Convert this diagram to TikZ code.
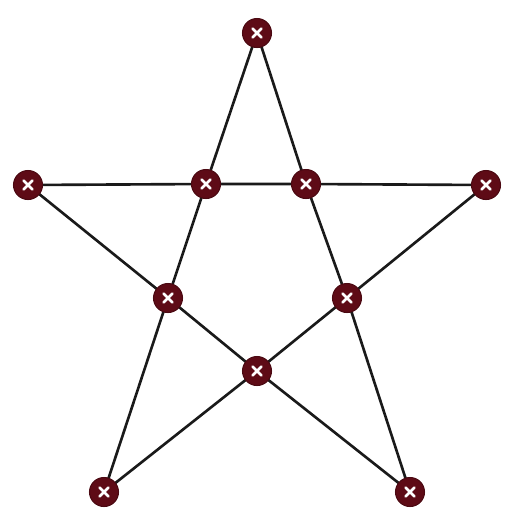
\documentclass[tikz,border=0pt]{standalone}
\definecolor{nodered}{HTML}{5E0B16}
\definecolor{edgecol}{HTML}{1A1A1A}
\tikzset{
  pnode/.style={circle, fill=nodered, draw=nodered!80!black, line width=0.6pt, minimum size=0.58cm, inner sep=0pt,
    path picture={
      \draw[white, line width=1.5pt, line cap=round]
        ([shift={(-0.09cm,-0.09cm)}]path picture bounding box.center) -- ([shift={(0.09cm,0.09cm)}]path picture bounding box.center)
        ([shift={(-0.09cm,0.09cm)}]path picture bounding box.center) -- ([shift={(0.09cm,-0.09cm)}]path picture bounding box.center);
    }},
  edge/.style={draw=edgecol, line width=1.5pt}
}
\begin{document}
\begin{tikzpicture}[x=0.02cm,y=-0.02cm]
\useasboundingbox[fill=white] (0,0) rectangle (505,515);
\coordinate (T0) at (257,33);
\coordinate (L0) at (28,185);
\coordinate (R0) at (486,185);
\coordinate (A0) at (206,184);
\coordinate (B0) at (306,184);
\coordinate (C0) at (168,298);
\coordinate (D0) at (347,298);
\coordinate (E0) at (257,371);
\coordinate (F0) at (104,492);
\coordinate (G0) at (410,492);
\draw[edge] (T0) -- (A0) -- (C0) -- (F0);
\draw[edge] (T0) -- (B0) -- (D0) -- (G0);
\draw[edge] (L0) -- (A0) -- (B0) -- (R0);
\draw[edge] (L0) -- (C0) -- (E0) -- (G0);
\draw[edge] (R0) -- (D0) -- (E0) -- (F0);
\node[pnode] (T) at (T0) {};
\node[pnode] (L) at (L0) {};
\node[pnode] (R) at (R0) {};
\node[pnode] (A) at (A0) {};
\node[pnode] (B) at (B0) {};
\node[pnode] (C) at (C0) {};
\node[pnode] (D) at (D0) {};
\node[pnode] (E) at (E0) {};
\node[pnode] (F) at (F0) {};
\node[pnode] (G) at (G0) {};
\end{tikzpicture}
\end{document}
